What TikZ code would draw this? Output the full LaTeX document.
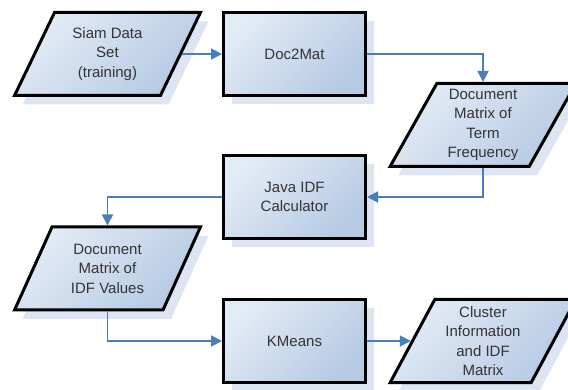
\documentclass[tikz,border=0pt]{standalone}
\usepackage{fontspec}
\setmainfont{Liberation Sans}
\usetikzlibrary{shapes.geometric,shadows,arrows.meta}

\definecolor{boxlight}{HTML}{E3EBF6}
\definecolor{boxdark}{HTML}{B6CAE3}
\definecolor{shadowblue}{HTML}{DCE5F1}
\definecolor{flowblue}{HTML}{4A7EBB}
\definecolor{labelgray}{HTML}{333333}

\begin{document}
\begin{tikzpicture}[x=1pt,y=-1pt,
  base/.style={draw=black, line width=3pt, text=labelgray,
    font=\fontsize{15}{19.5}\selectfont, align=center, inner sep=0pt,
    top color=boxlight, bottom color=boxdark, shading angle=45,
    drop shadow={shadow xshift=8pt, shadow yshift=-9pt, fill=shadowblue, opacity=1}},
  procbox/.style={base, rectangle, minimum width=142pt, minimum height=83pt},
  databox/.style={base, trapezium, trapezium left angle=63.5,
    trapezium right angle=116.5, trapezium stretches=true,
    minimum width=186pt, minimum height=83pt},
  flow/.style={draw=flowblue, line width=1.8pt,
    -{Triangle[length=11pt,width=11pt]}}]

\useasboundingbox (0,0) rectangle (568,390);

% data sets (parallelograms) and processing steps (boxes)
\node[databox] (siam) at (107.5,54) {Siam Data\\Set\\(training)};
\node[procbox] (doc2mat) at (294.5,54) {Doc2Mat};
\node[databox] (tf) at (483,125) {Document\\Matrix of\\Term\\Frequency};
\node[procbox] (java) at (294.5,197) {Java IDF\\Calculator};
\node[databox] (idf) at (107.5,268.5) {Document\\Matrix of\\IDF Values};
\node[procbox] (kmeans) at (294.5,341) {KMeans};
\node[databox] (cluster) at (483,341) {Cluster\\Information\\and IDF\\Matrix};

% data flow
\draw[flow] (siam) -- (doc2mat);
\draw[flow] (doc2mat) -| (tf);
\draw[flow] (tf) |- (java);
\draw[flow] (java) -| (idf);
\draw[flow] (idf) |- (kmeans);
\draw[flow] (kmeans) -- (cluster);
\end{tikzpicture}
\end{document}
